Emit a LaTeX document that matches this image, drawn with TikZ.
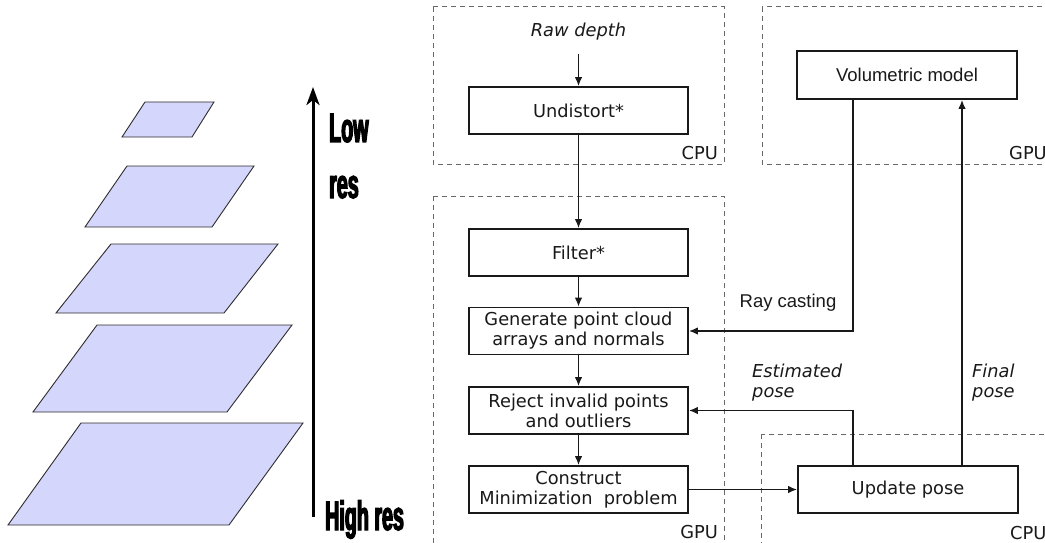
\documentclass[tikz,border=0pt]{standalone}
\usepackage{fontspec}
\setmainfont{DejaVu Sans}
\newfontfamily\dvs{DejaVu Sans}
\newfontfamily\lib{Liberation Sans}
\newfontfamily\condbold{Liberation Sans}[UprightFeatures={FakeStretch=0.48},BoldFeatures={FakeStretch=0.48,FakeBold=3}]
\usetikzlibrary{arrows.meta}
\definecolor{pyrfill}{RGB}{213,214,251}
\definecolor{pyrline}{RGB}{45,45,45}
\definecolor{dashgray}{RGB}{105,105,105}
\definecolor{ink}{RGB}{25,25,25}
\tikzset{
  pyr/.style={fill=pyrfill, draw=pyrline, line width=0.9pt, line join=miter},
  region/.style={draw=dashgray, line width=1pt, dash pattern=on 5pt off 4pt},
  procbox/.style={draw=ink, text=ink, line width=1.8pt, minimum width=219pt, minimum height=47pt, inner sep=0pt, align=center,
                  font=\dvs\fontsize{17.8}{20}\selectfont},
  arr/.style={draw=ink, line width=1.5pt, -{Latex[length=9pt,width=7.5pt]}},
  lbl/.style={inner sep=0pt, text=ink, font=\dvs\fontsize{17.8}{20}\selectfont},
  ilbl/.style={inner sep=0pt, text=ink, align=left, font=\dvs\itshape\fontsize{17.8}{20}\selectfont},
  big/.style={inner sep=0pt, anchor=base west, font=\condbold\bfseries\fontsize{41}{44}\selectfont},
}
\begin{document}
\begin{tikzpicture}[x=1pt,y=-1pt]
\useasboundingbox (0,0) rectangle (1045,543);
\clip (0,0) rectangle (1045,543);
\fill[white] (0,0) rectangle (1045,543);

% pyramid levels
\filldraw[pyr] (145,102) -- (214,102) -- (192,137) -- (122,137) -- cycle;
\filldraw[pyr] (127,166) -- (254,166) -- (212,227) -- (85,227) -- cycle;
\filldraw[pyr] (111,244) -- (278,244) -- (224,313) -- (56,313) -- cycle;
\filldraw[pyr] (97,325) -- (292,325) -- (227,412) -- (33,412) -- cycle;
\filldraw[pyr] (81,423) -- (303,423) -- (229,525) -- (8,525) -- cycle;

% resolution arrow
\coordinate (ab) at (313,517);
\coordinate (at) at (313,87);
\draw[line width=3pt, -{Stealth[length=18pt,width=13pt,inset=5pt]}] (ab) -- (at);
\node[big] (low) at (329,142) {Low};
\node[big] (lres) at (329,198) {res};
\node[big] (high) at (325,530) {High res};

% dashed regions
\draw[region] (433,7) rectangle (724,164);
\draw[region] (762,7) rectangle (1060,164);
\draw[region] (433,196) rectangle (724,560);
\draw[region] (761,434) rectangle (1060,560);

\node[lbl, anchor=east] (cpu1) at (718,153) {CPU};
\node[lbl, anchor=west] (gpu1) at (1009,153) {GPU};
\node[lbl, anchor=east] (gpu2) at (718,532) {GPU};
\node[lbl, anchor=west] (cpu2) at (1010,533) {CPU};

% process boxes
\node[procbox] (undist) at (578.5,110.5) {Undistort*};
\node[procbox] (filter) at (578.5,252.5) {Filter*};
\node[procbox] (gen) at (578.5,331) {Generate point cloud\\arrays and normals};
\node[procbox] (rej) at (578.5,410.5) {Reject invalid points\\and outliers};
\node[procbox] (cons) at (578.5,489.5) {Construct\\Minimization~~problem};
\node[procbox, minimum width=220pt, minimum height=48pt, font=\lib\fontsize{18.5}{20}\selectfont] (vol) at (907,75) {Volumetric model};
\node[procbox, minimum width=220pt] (upd) at (908,489.5) {Update pose};

% labels
\node[ilbl] (raw) at (578.5,32) {Raw depth};
\coordinate (rawend) at (578.5,54);
\node[inner sep=0pt, text=ink, font=\lib\fontsize{18.5}{20}\selectfont] (rc) at (788,303) {Ray casting};
\node[ilbl, anchor=west] (est) at (752,383) {Estimated\\pose};
\node[ilbl, anchor=west] (fin) at (972,383) {Final\\pose};

% connectors
\coordinate (rcx) at (853,0);
\coordinate (fpx) at (962,0);
\draw[arr] (rawend) -- (undist.north);
\draw[arr] (undist.south) -- (filter.north);
\draw[arr] (filter.south) -- (gen.north);
\draw[arr] (gen.south) -- (rej.north);
\draw[arr] (rej.south) -- (cons.north);
\draw[arr] (vol.south -| rcx) |- (gen.east);
\draw[arr] (upd.north -| rcx) |- (rej.east);
\draw[arr] (upd.north -| fpx) -- (vol.south -| fpx);
\draw[arr] (cons.east) -- (upd.west);
\end{tikzpicture}
\end{document}
